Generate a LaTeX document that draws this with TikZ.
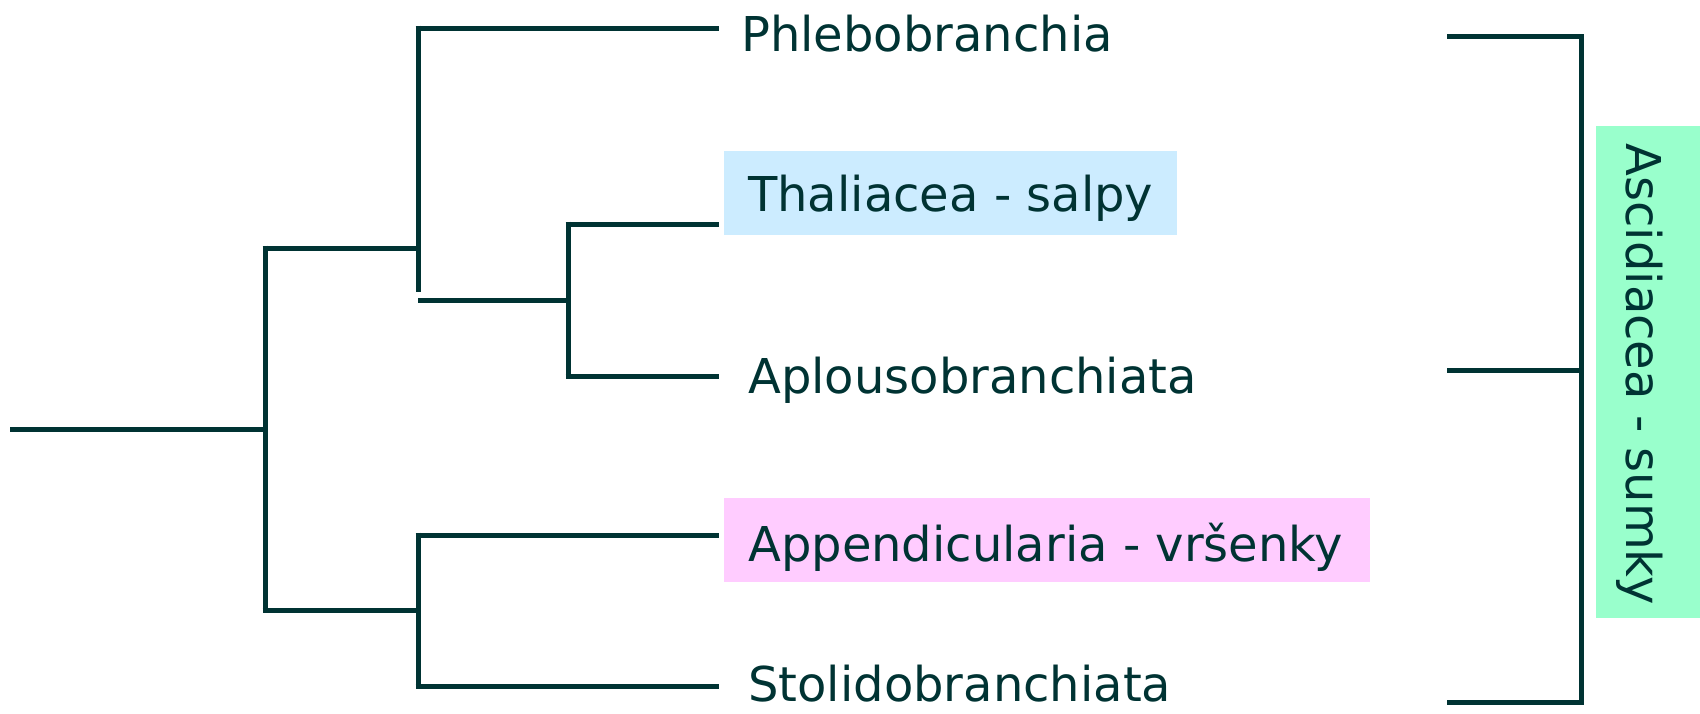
\documentclass[tikz,border=0pt]{standalone}
\usepackage{fontspec}
\setmainfont{DejaVu Sans}
\definecolor{ink}{HTML}{003333}
\definecolor{bluebox}{HTML}{CCECFF}
\definecolor{pinkbox}{HTML}{FFCCFF}
\definecolor{greenbox}{HTML}{99FFCC}
\tikzset{
  branch/.style={draw=ink, line width=5pt, line cap=butt},
  leaf/.style={anchor=base west, inner sep=0pt, text=ink, font=\fontsize{48}{56}\selectfont},
  hlbox/.style={inner sep=0pt}
}
\begin{document}
\begin{tikzpicture}[x=1pt,y=-1pt]
\useasboundingbox (0,0) rectangle (1700,713);
% highlight boxes
\fill[bluebox] (724,151) rectangle (1177,235);
\fill[pinkbox] (724,498) rectangle (1370,582);
\fill[greenbox] (1596,126) rectangle (1700,618);
% tree coordinates
\coordinate (r0) at (10,429);
\coordinate (r1) at (265,429);
\coordinate (aT) at (265,248);
\coordinate (aB) at (265,610);
\coordinate (bT) at (418,248);
\coordinate (bB) at (418,610);
\coordinate (c1) at (418,28);
\coordinate (c2) at (418,292);
\coordinate (d0) at (418,300);
\coordinate (d1) at (568,300);
\coordinate (e1) at (568,224);
\coordinate (e2) at (568,376);
\coordinate (f1) at (418,535);
\coordinate (f2) at (418,686);
\coordinate (L1) at (719,28);
\coordinate (L2) at (719,224);
\coordinate (L3) at (719,376);
\coordinate (L4) at (719,535);
\coordinate (L5) at (719,686);
% leaf labels
\node[leaf] (phl) at (741,51) {Phlebobranchia};
\node[leaf] (tha) at (748,211) {Thaliacea - salpy};
\node[leaf] (apl) at (748,393) {Aplousobranchiata};
\node[leaf] (app) at (748,561) {Appendicularia - vršenky};
\node[leaf] (sto) at (748,701) {Stolidobranchiata};
% tree
\draw[branch] (r0) -- (r1);
\draw[branch] ([yshift=2.5pt]aT) -- ([yshift=-2.5pt]aB);
\draw[branch] ([xshift=-2.5pt]aT) -- (bT);
\draw[branch] ([xshift=-2.5pt]aB) -- (bB);
\draw[branch] ([yshift=2.5pt]c1) -- (c2);
\draw[branch] ([xshift=-2.5pt]c1) -- (L1);
\draw[branch] (d0) -- (d1);
\draw[branch] ([yshift=2.5pt]e1) -- ([yshift=-2.5pt]e2);
\draw[branch] ([xshift=-2.5pt]e1) -- (L2);
\draw[branch] ([xshift=-2.5pt]e2) -- (L3);
\draw[branch] ([yshift=2.5pt]f1) -- ([yshift=-2.5pt]f2);
\draw[branch] ([xshift=-2.5pt]f1) -- (L4);
\draw[branch] ([xshift=-2.5pt]f2) -- (L5);
% bracket
\coordinate (g1) at (1447,36);
\coordinate (g2) at (1447,370);
\coordinate (g3) at (1447,702);
\coordinate (h1) at (1581,36);
\coordinate (h2) at (1581,370);
\coordinate (h3) at (1581,702);
\draw[branch] (g1) -- (h1) -- (h3) -- (g3);
\draw[branch] (g2) -- (h2);
% group label
\node[text=ink, font=\fontsize{48}{56}\selectfont, rotate=-90, inner sep=0pt] (asc) at (1640,374) {Ascidiacea - sumky};
\end{tikzpicture}
\end{document}
